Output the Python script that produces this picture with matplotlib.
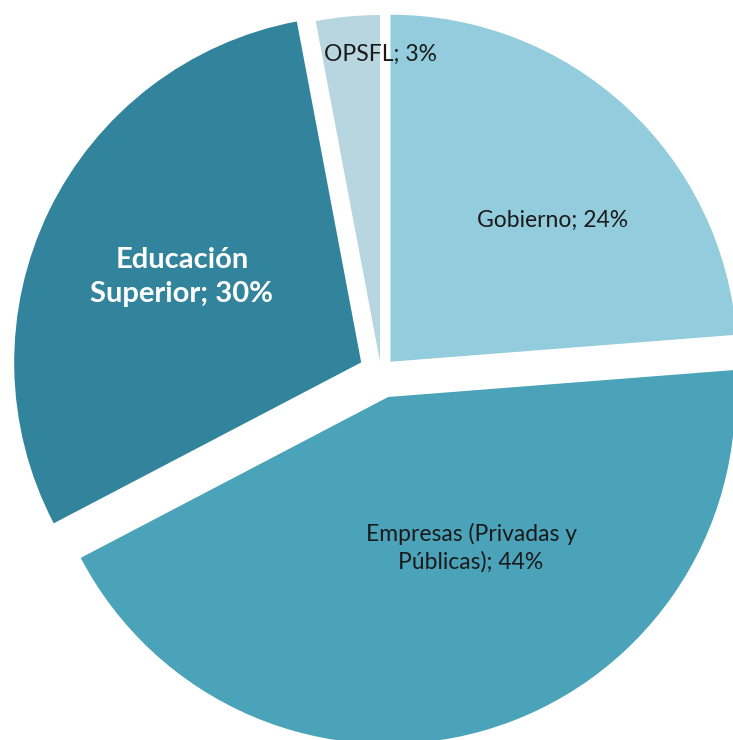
import matplotlib
matplotlib.use("Agg")
import matplotlib.pyplot as plt

# --- Data ---
sectors = ["Gobierno", "Empresas (Privadas y\nPúblicas)", "Educación\nSuperior", "OPSFL"]
shares = [24, 44, 30, 3]
colors = ["#93CDDD", "#4AA3B9", "#31849B", "#B7D6E0"]
explode = [14, 26, 22, 10]   # offsets in pixel units

# label placement and style per slice
label_pos = [(553, 220), (471, 548), (182, 277), (380, 54)]
label_color = ["#1a1a1a", "#1a1a1a", "white", "#1a1a1a"]
label_weight = ["normal", "normal", "bold", "normal"]
label_size = [16.5, 16.5, 21, 16.5]

W, H = 733, 740
fig = plt.figure(figsize=(W / 100, H / 100), dpi=100)
ax = fig.add_axes([0, 0, 1, 1])

cx, cy = 381, H - 372
radius = 347

wedges, _ = ax.pie(shares, colors=colors, explode=explode, startangle=90,
                   counterclock=False, radius=radius, center=(cx, cy),
                   wedgeprops=dict(linewidth=0))

ax.set_xlim(0, W)
ax.set_ylim(0, H)
ax.set_aspect("auto")
ax.axis("off")

for name, val, (x, y), c, w, s in zip(sectors, shares, label_pos,
                                      label_color, label_weight, label_size):
    ax.text(x, H - y, f"{name}; {val}%", ha="center", va="center",
            color=c, fontweight=w, fontsize=s, family="Lato",
            linespacing=1.35)

fig.savefig("out.png", dpi=100, facecolor="white")
